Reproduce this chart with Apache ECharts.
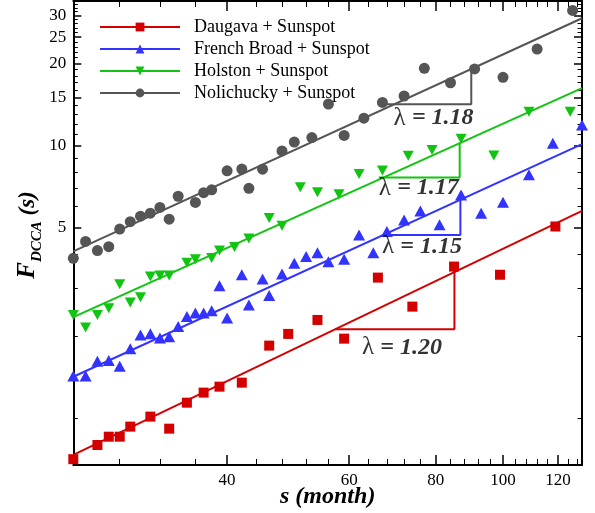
<!DOCTYPE html>
<html>
<head>
<meta charset="utf-8">
<script src="https://cdn.jsdelivr.net/npm/echarts@6/dist/echarts.min.js"></script>
<style>
html, body { margin: 0; padding: 0; background: #fff; }
#chart { width: 595px; height: 513px; }
</style>
</head>
<body>
<div id="chart"></div>
<script>
// [s (month), F_DCCA(s)]
var daugava = [[24,0.708],[26,0.798],[27,0.856],[28,0.856],[29,0.932],[31,1.014],[33,0.916],[35,1.141],[37,1.242],[39,1.306],
  [42,1.351],[46,1.847],[49,2.039],[54,2.294],[59,1.959],[66,3.28],[74,2.567],[85,3.60],[99,3.36],[119,5.05]];
var frenchBroad = [[24,1.43],[25,1.43],[26,1.62],[27,1.63],[28,1.55],[29,1.80],[30,2.02],[31,2.04],[32,1.97],[33,1.99],
  [34,2.17],[35,2.36],[36,2.43],[37,2.43],[38,2.48],[39,3.06],[40,2.33],[42,3.36],[43,2.60],[45,3.24],[46,2.82],[48,3.38],
  [50,3.70],[52,3.92],[54,4.05],[56,3.75],[59,3.83],[62,4.70],[65,4.05],[68,4.84],[72,5.34],[76,5.76],[81,5.12],[87,6.59],
  [93,5.65],[100,6.20],[109,7.81],[118,10.2],[130,11.9]];
var holston = [[24,2.39],[25,2.15],[26,2.39],[27,2.53],[28,3.10],[29,2.66],[30,2.78],[31,3.31],[32,3.34],[33,3.34],
  [35,3.72],[36,3.83],[38,3.87],[39,4.12],[41,4.25],[43,4.56],[46,5.42],[48,5.08],[51,7.04],[54,6.75],[58,6.63],[62,7.87],
  [67,8.10],[73,9.17],[79,9.64],[87,10.6],[97,9.19],[109,13.3],[125,13.3]];
var nolichucky = [[24,3.86],[25,4.45],[26,4.12],[27,4.26],[28,4.94],[29,5.26],[30,5.51],[31,5.65],[32,5.93],[33,5.37],
  [34,6.52],[36,6.19],[37,6.72],[38,6.88],[40,8.08],[42,8.20],[43,6.97],[45,8.19],[48,9.56],[50,10.3],[53,10.7],[56,14.2],
  [59,10.9],[63,12.6],[67,14.4],[72,15.2],[77,19.2],[84,17.0],[91,19.1],[100,17.8],[112,22.6],[126,31.3]];

// fitted power-law lines (end points)
var fitDaugava = [[24,0.734],[130,5.76]];
var fitFrench = [[24,1.42],[130,10.12]];
var fitHolston = [[24,2.35],[130,16.24]];
var fitNoli = [[24,4.09],[130,29.3]];

// slope triangles and their labels
var triDaugava = [[57.3,2.12],[85.1,2.12],[85.1,3.60]];
var triFrench = [[66.9,4.70],[86.8,4.70],[86.8,6.41]];
var triHolston = [[66.2,7.63],[86.6,7.63],[86.6,10.2]];
var triNoli = [[67.3,14.19],[90.0,14.19],[90.0,19.2]];
var slopes = ['1.20', '1.15', '1.17', '1.18'];
var slopeAt = [[71.5,1.82],[76.4,4.26],[75.6,6.98],[79.4,12.6]];

var names = ['Daugava + Sunspot', 'French Broad + Sunspot', 'Holston + Sunspot', 'Nolichucky + Sunspot'];
var colors = ['#d40000', '#3333ff', '#11c411', '#555555'];

// axis ranges and ticks
var xMin = 24, xMax = 130, yMin = 0.674, yMax = 33.9;
var xMajor = [40, 60, 80, 100, 120];
var xMinor = [28, 32, 36, 44, 48, 52, 56, 64, 68, 72, 76, 84, 88, 92, 96, 104, 108, 112, 116, 124, 128];
var yMajor = [5, 10, 15, 20, 25, 30];
var yMinor = [1, 2, 3, 4, 6, 7, 8, 9, 11, 12, 13, 14, 16, 17, 18, 19, 21, 22, 23, 24, 26, 27, 28, 29, 31, 32, 33];

var serif = "'Liberation Serif', 'Times New Roman', serif";
var chart = echarts.init(document.getElementById('chart'), null, { renderer: 'canvas' });

function lg(v) { return Math.log10(v); }

// extra value axes in log10 space carry the ticks / labels
function tickAxis(isX, pos, vals, len, width, withLabels) {
  var ax = {
    type: 'value',
    position: pos,
    min: isX ? lg(xMin) : lg(yMin),
    max: isX ? lg(xMax) : lg(yMax),
    axisLine: { show: false, onZero: false },
    splitLine: { show: false },
    axisTick: {
      show: true, inside: true, length: len,
      customValues: vals.map(lg),
      lineStyle: { color: '#000', width: width }
    },
    axisLabel: { show: false }
  };
  if (withLabels) {
    ax.axisLabel = {
      show: true,
      customValues: vals.map(lg),
      formatter: function (v) { return String(Math.round(Math.pow(10, v))); },
      fontFamily: serif, fontSize: 17, color: '#000',
      margin: 7
    };
  }
  return ax;
}

function frameAxis(isX, pos) {
  return {
    type: 'log', logBase: 10, position: pos,
    min: isX ? xMin : yMin, max: isX ? xMax : yMax,
    axisLine: { show: true, onZero: false, lineStyle: { color: '#000', width: 2 } },
    axisTick: { show: false }, axisLabel: { show: false }, splitLine: { show: false }
  };
}

var xAxes = [
  frameAxis(true, 'bottom'),
  frameAxis(true, 'top'),
  tickAxis(true, 'bottom', xMajor, 10, 1.5, true),
  tickAxis(true, 'bottom', xMinor, 6, 1, false),
  tickAxis(true, 'top', xMajor, 10, 1.5, false),
  tickAxis(true, 'top', xMinor, 6, 1, false)
];
var yAxes = [
  frameAxis(false, 'left'),
  frameAxis(false, 'right'),
  tickAxis(false, 'left', yMajor, 8, 1.5, true),
  tickAxis(false, 'left', yMinor, 4.5, 1, false),
  tickAxis(false, 'right', yMajor, 8, 1.5, false),
  tickAxis(false, 'right', yMinor, 4.5, 1, false)
];

var points = [daugava, frenchBroad, holston, nolichucky];
var fits = [fitDaugava, fitFrench, fitHolston, fitNoli];
var tris = [triDaugava, triFrench, triHolston, triNoli];
var symbols = ['rect', 'triangle', 'triangle', 'circle'];
var rotates = [0, 0, 180, 0];
var sizes = [10, [12, 11], [11, 10], 11];

var series = [];
for (var i = 0; i < 4; i++) {
  series.push({
    name: names[i], type: 'line', data: fits[i],
    symbol: symbols[i], symbolRotate: rotates[i], showSymbol: false,
    lineStyle: { color: colors[i], width: 2 }, itemStyle: { color: colors[i] },
    silent: true, z: 2
  });
}
for (var i = 0; i < 4; i++) {
  series.push({
    name: names[i], type: 'scatter', data: points[i],
    symbol: symbols[i], symbolRotate: rotates[i], symbolSize: sizes[i],
    itemStyle: { color: colors[i], opacity: 1 },
    silent: true, z: 3
  });
}
for (var i = 0; i < 4; i++) {
  series.push({
    name: 'slope' + i, type: 'line', data: tris[i], showSymbol: false,
    lineStyle: { color: colors[i], width: 2 }, silent: true, z: 2
  });
  series.push({
    name: 'label' + i, type: 'scatter', data: [slopeAt[i]],
    symbolSize: 1, itemStyle: { color: 'rgba(0,0,0,0)' }, silent: true, z: 4,
    label: {
      show: true, position: 'inside',
      formatter: '{l|\u03bb }{b|= ' + slopes[i] + '}',
      rich: {
        l: { fontFamily: serif, fontSize: 25, color: '#000' },
        b: { fontFamily: serif, fontSize: 24, fontWeight: 'bold', fontStyle: 'italic', color: '#000' }
      }
    }
  });
}

chart.setOption({
  animation: false,
  backgroundColor: '#fff',
  grid: { left: 73.3, right: 13, top: 1, bottom: 48, outerBoundsMode: 'none' },
  xAxis: xAxes,
  yAxis: yAxes,
  legend: {
    orient: 'vertical', left: 99, top: 18, padding: 0,
    itemWidth: 80, itemHeight: 11, itemGap: 4,
    selectedMode: false,
    data: names,
    textStyle: { fontFamily: serif, fontSize: 18, lineHeight: 18, color: '#000', padding: [0, 0, 0, 9] }
  },
  graphic: [
    {
      type: 'text', x: 327.7, y: 497,
      style: {
        text: 's (month)', fontFamily: serif, fontSize: 24, fontWeight: 'bold', fontStyle: 'italic',
        fill: '#000', align: 'center', verticalAlign: 'middle'
      }
    },
    {
      type: 'text', x: 28, y: 235, rotation: Math.PI / 2,
      style: {
        text: '{f|F}{d|DCCA}{p| (s)}', align: 'center', verticalAlign: 'middle',
        rich: {
          f: { fontFamily: serif, fontSize: 25, fontWeight: 'bold', fontStyle: 'italic', lineHeight: 34, fill: '#000' },
          d: { fontFamily: serif, fontSize: 15, fontWeight: 'bold', fontStyle: 'italic', lineHeight: 15, verticalAlign: 'bottom', fill: '#000' },
          p: { fontFamily: serif, fontSize: 23, fontWeight: 'bold', fontStyle: 'italic', lineHeight: 34, fill: '#000' }
        }
      }
    }
  ],
  series: series
});
</script>
</body>
</html>
